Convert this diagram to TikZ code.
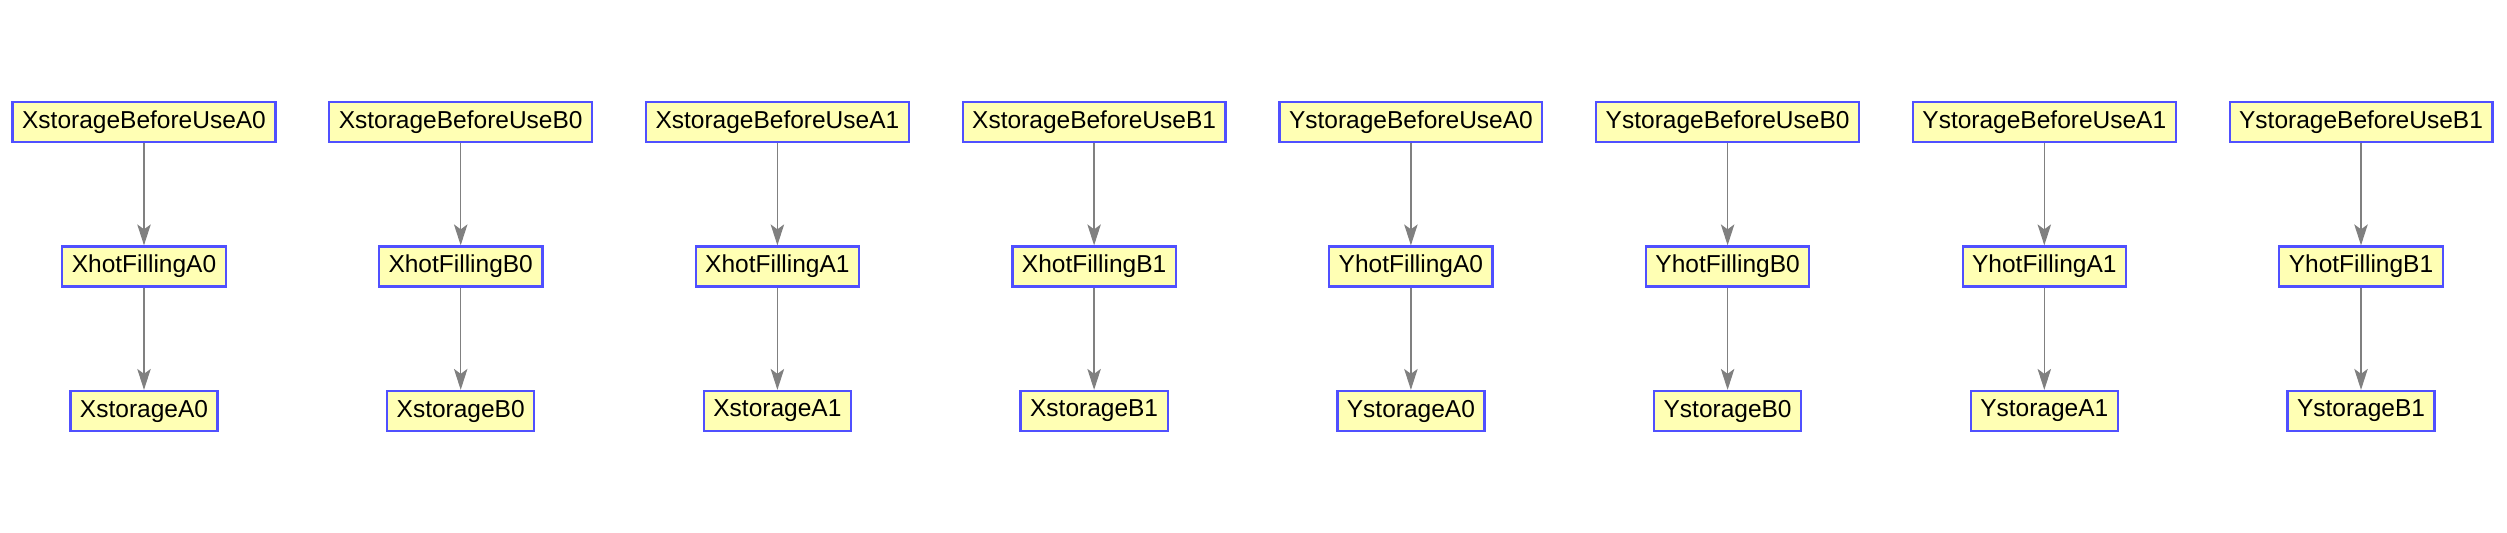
\documentclass[tikz,border=0pt]{standalone}
\usepackage{fontspec}
\setmainfont{Liberation Sans}
\usepackage{xcolor}
\usetikzlibrary{arrows.meta,positioning}

\definecolor{boxfill}{RGB}{255,255,180}
\definecolor{boxline}{RGB}{80,80,255}
\definecolor{edgegray}{RGB}{128,128,128}

\tikzset{
    varbox/.style={draw=boxline, fill=boxfill, line width=0.9pt, rectangle,
        minimum height=16pt, inner xsep=3.8pt, inner ysep=0pt,
        font=\fontsize{9.8}{11.8}\selectfont},
    flow/.style={draw=edgegray, line width=0.5pt,
        -{Stealth[length=8.4pt,width=5.4pt,inset=2pt]}}
}

\begin{document}
\begin{tikzpicture}[x=0.4pt,y=0.4pt]
    \useasboundingbox (0,0) rectangle (2507,533);

    % X, block A0
    \node[varbox] (xbA0) at (144,411) {XstorageBeforeUseA0};
    \node[varbox] (xhA0) at (144,266.5) {XhotFillingA0};
    \node[varbox] (xsA0) at (144,122) {XstorageA0};
    \draw[flow] (xbA0) -- (xhA0);
    \draw[flow] (xhA0) -- (xsA0);

    % X, block B0
    \node[varbox] (xbB0) at (460.7,411) {XstorageBeforeUseB0};
    \node[varbox] (xhB0) at (460.7,266.5) {XhotFillingB0};
    \node[varbox] (xsB0) at (460.7,122) {XstorageB0};
    \draw[flow] (xbB0) -- (xhB0);
    \draw[flow] (xhB0) -- (xsB0);

    % X, block A1
    \node[varbox] (xbA1) at (777.4,411) {XstorageBeforeUseA1};
    \node[varbox] (xhA1) at (777.4,266.5) {XhotFillingA1};
    \node[varbox] (xsA1) at (777.4,122) {XstorageA1};
    \draw[flow] (xbA1) -- (xhA1);
    \draw[flow] (xhA1) -- (xsA1);

    % X, block B1
    \node[varbox] (xbB1) at (1094.1,411) {XstorageBeforeUseB1};
    \node[varbox] (xhB1) at (1094.1,266.5) {XhotFillingB1};
    \node[varbox] (xsB1) at (1094.1,122) {XstorageB1};
    \draw[flow] (xbB1) -- (xhB1);
    \draw[flow] (xhB1) -- (xsB1);

    % Y, block A0
    \node[varbox] (ybA0) at (1410.9,411) {YstorageBeforeUseA0};
    \node[varbox] (yhA0) at (1410.9,266.5) {YhotFillingA0};
    \node[varbox] (ysA0) at (1410.9,122) {YstorageA0};
    \draw[flow] (ybA0) -- (yhA0);
    \draw[flow] (yhA0) -- (ysA0);

    % Y, block B0
    \node[varbox] (ybB0) at (1727.6,411) {YstorageBeforeUseB0};
    \node[varbox] (yhB0) at (1727.6,266.5) {YhotFillingB0};
    \node[varbox] (ysB0) at (1727.6,122) {YstorageB0};
    \draw[flow] (ybB0) -- (yhB0);
    \draw[flow] (yhB0) -- (ysB0);

    % Y, block A1
    \node[varbox] (ybA1) at (2044.3,411) {YstorageBeforeUseA1};
    \node[varbox] (yhA1) at (2044.3,266.5) {YhotFillingA1};
    \node[varbox] (ysA1) at (2044.3,122) {YstorageA1};
    \draw[flow] (ybA1) -- (yhA1);
    \draw[flow] (yhA1) -- (ysA1);

    % Y, block B1
    \node[varbox] (ybB1) at (2361,411) {YstorageBeforeUseB1};
    \node[varbox] (yhB1) at (2361,266.5) {YhotFillingB1};
    \node[varbox] (ysB1) at (2361,122) {YstorageB1};
    \draw[flow] (ybB1) -- (yhB1);
    \draw[flow] (yhB1) -- (ysB1);
\end{tikzpicture}
\end{document}
